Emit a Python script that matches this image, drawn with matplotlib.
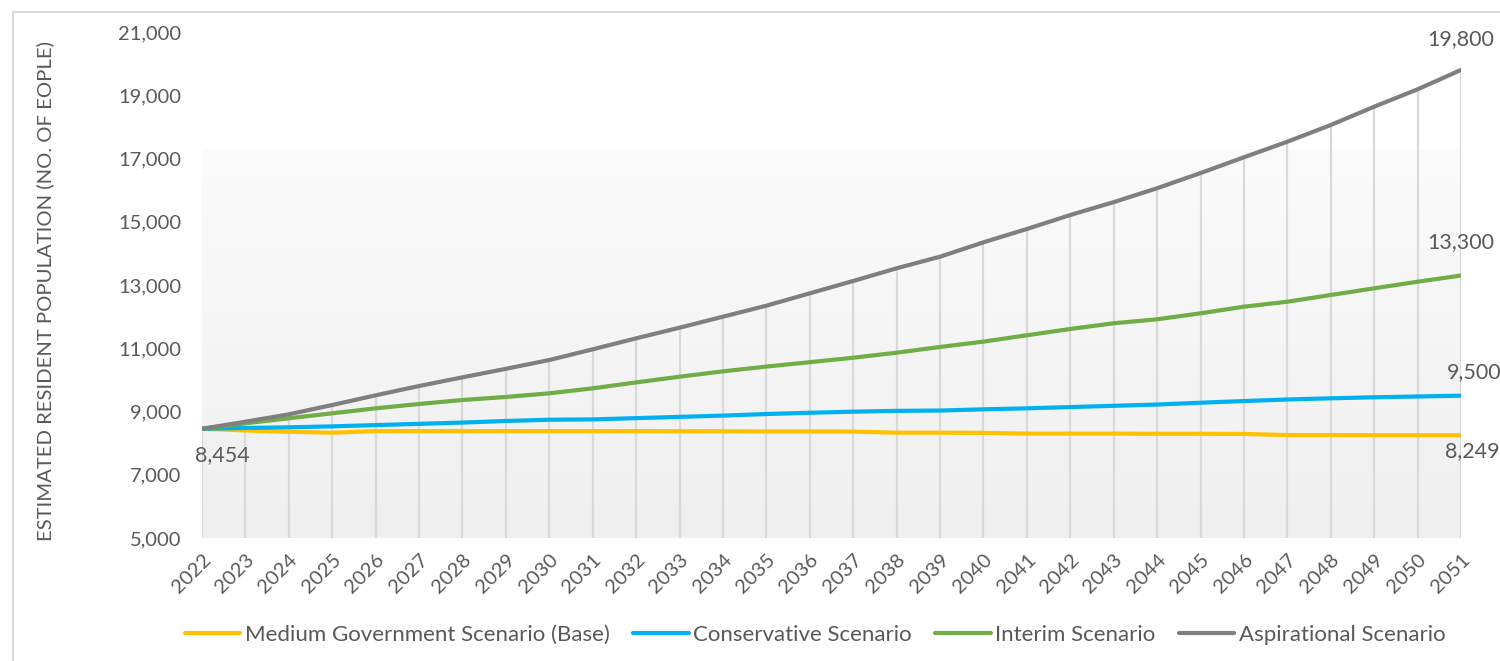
import numpy as np
import matplotlib.pyplot as plt
from matplotlib.colors import LinearSegmentedColormap
from matplotlib.patches import Rectangle

plt.rcParams['font.family'] = ['Lato', 'DejaVu Sans']

# Data
years = list(range(2022, 2052))
medium_base = [8454, 8400, 8360, 8330, 8380, 8380, 8380, 8380, 8380, 8380,
               8380, 8375, 8375, 8370, 8370, 8365, 8330, 8330, 8325, 8300,
               8300, 8300, 8295, 8295, 8290, 8255, 8255, 8250, 8250, 8249]
conservative = [8454, 8480, 8500, 8530, 8570, 8610, 8650, 8700, 8740, 8750,
                8790, 8830, 8870, 8920, 8960, 8994, 9020, 9030, 9069, 9100,
                9140, 9180, 9220, 9278, 9330, 9380, 9417, 9449, 9475, 9500]
interim = [8454, 8627, 8785, 8943, 9101, 9237, 9364, 9460, 9575, 9733,
           9920, 10100, 10270, 10420, 10560, 10700, 10860, 11040, 11210, 11410,
           11610, 11790, 11915, 12105, 12314, 12472, 12684, 12895, 13104, 13300]
aspirational = [8454, 8677, 8911, 9205, 9512, 9806, 10081, 10350, 10628, 10966,
                11314, 11650, 11998, 12346, 12737, 13127, 13528, 13895, 14350, 14771,
                15213, 15620, 16060, 16540, 17038, 17531, 18059, 18638, 19187, 19800]

series_names = ['Medium Government Scenario (Base)', 'Conservative Scenario',
                'Interim Scenario', 'Aspirational Scenario']
series_colors = ['#FFC000', '#00B0F0', '#70AD47', '#7F7F7F']
yticks = list(range(5000, 21001, 2000))

txt = '#595959'

fig = plt.figure(figsize=(15, 6.61), dpi=100)
ax = fig.add_axes([202 / 1500, 1 - 538 / 661, (1461 - 202) / 1500, (538 - 32) / 661])

# outer chart frame
fig.patches.append(Rectangle((13 / 1500, -0.1), 1.2, 1 - 12 / 661 + 0.1,
                             transform=fig.transFigure, fill=False,
                             edgecolor='#d9d9d9', lw=1.5))

# soft gradient behind the plot
grad_cmap = LinearSegmentedColormap.from_list('bg', ['#fbfbfb', '#f5f5f5', '#efefef'])
grad = np.linspace(0, 1, 256).reshape(-1, 1)
ax.imshow(grad, cmap=grad_cmap, aspect='auto', origin='upper',
          extent=[2022, 2051, 5000, 17270], zorder=0)

# drop lines from the top series
ax.vlines(years, 5000, aspirational, colors='#d9d9d9', lw=1.6, zorder=1)

series = [medium_base, conservative, interim, aspirational]
for vals, name, col in zip(series, series_names, series_colors):
    ax.plot(years, vals, color=col, lw=3, label=name, zorder=3,
            solid_capstyle='round')

ax.set_xlim(2022, 2051)
ax.set_ylim(5000, 21000)
ax.set_yticks(yticks)
ax.set_yticklabels([f'{v:,}' for v in yticks])
ax.set_xticks(years)
ax.set_xticklabels([str(y) for y in years], rotation=45, ha='right', va='top',
                   rotation_mode='anchor')
ax.tick_params(axis='both', length=0, labelsize=14.5, colors=txt)
ax.tick_params(axis='y', pad=15)
ax.tick_params(axis='x', pad=9)
for s in ax.spines.values():
    s.set_visible(False)
ax.set_facecolor('none')

fig.text(45 / 1500, 1 - 291 / 661, 'ESTIMATED RESIDENT POPULATION (NO. OF EOPLE)',
         rotation=90, ha='center', va='center', fontsize=14.6, color=txt)

# data labels
lab_kw = dict(textcoords='offset pixels', fontsize=15.5, color=txt,
              ha='center', va='center')
ax.annotate(f'{aspirational[0]:,}', (years[0], aspirational[0]), xytext=(20, -26),
            annotation_clip=False, **lab_kw)
ax.annotate(f'{aspirational[-1]:,}', (years[-1], aspirational[-1]), xytext=(0, 31),
            annotation_clip=False, **lab_kw)
ax.annotate(f'{interim[-1]:,}', (years[-1], interim[-1]), xytext=(0, 33),
            annotation_clip=False, **lab_kw)
ax.annotate(f'{conservative[-1]:,}', (years[-1], conservative[-1]), xytext=(13, 24),
            annotation_clip=False, **lab_kw)
ax.annotate(f'{medium_base[-1]:,}', (years[-1], medium_base[-1]), xytext=(11, -16),
            annotation_clip=False, **lab_kw)

fig.legend(loc='center', bbox_to_anchor=(815 / 1500, 1 - 635 / 661), ncol=4,
           frameon=False, fontsize=16, handlelength=2.5, handletextpad=0.2,
           columnspacing=1.05, labelcolor=txt)

fig.savefig('out.png', dpi=100)
